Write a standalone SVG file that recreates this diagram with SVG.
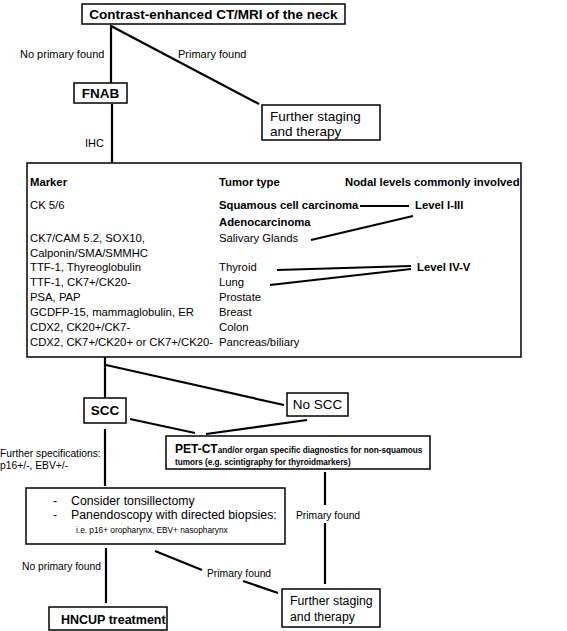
<svg xmlns="http://www.w3.org/2000/svg" width="567" height="631" viewBox="0 0 567 631">
<style>
text{font-family:"Liberation Sans",Arial,sans-serif;fill:#000}
.box{fill:#fff;stroke:#000;stroke-width:1.5}
.b{font-weight:bold}
.t{font-size:11.3px}
.m{font-size:13.5px}
.s{font-size:11px}
.xs{font-size:10.3px}
.conn line{stroke:#000;stroke-width:2.2}
.thin line{stroke:#000;stroke-width:2}
</style>
<rect width="567" height="631" fill="#fff"/>
<g id="connectors" class="conn">
<line x1="111" y1="25" x2="111" y2="83"/>
<line x1="111" y1="26" x2="259" y2="104"/>
<line x1="112" y1="104" x2="112" y2="163"/>
<line x1="105" y1="357" x2="105" y2="398"/>
<line x1="106" y1="365" x2="284" y2="405"/>
<line x1="130" y1="419" x2="195" y2="433"/>
<line x1="307" y1="420" x2="206" y2="434"/>
<line x1="105" y1="429" x2="105" y2="486"/>
<line x1="325" y1="472" x2="325" y2="505"/>
<line x1="325" y1="523" x2="325" y2="584"/>
<line x1="106" y1="548" x2="106" y2="603"/>
<line x1="155" y1="551" x2="202" y2="570"/>
<line x1="243" y1="581" x2="278" y2="593"/>
</g>
<g id="top">
<rect class="box" x="82" y="4" width="263" height="20"/>
<text class="b m" x="213.5" y="19" text-anchor="middle">Contrast-enhanced CT/MRI of the neck</text>
</g>
<text class="s" x="20" y="58">No primary found</text>
<text class="s" x="178" y="58">Primary found</text>
<g id="fnab">
<rect class="box" x="74" y="83" width="53" height="20"/>
<text class="b m" x="100.5" y="98" text-anchor="middle">FNAB</text>
</g>
<g id="staging1">
<rect class="box" x="262" y="105" width="118" height="35"/>
<text class="m" x="270" y="121">Further staging</text>
<text class="m" x="270" y="136">and therapy</text>
</g>
<text class="s" x="85" y="147">IHC</text>
<g id="table">
<rect class="box" x="27" y="163" width="494" height="194"/>
<g class="t">
<text class="b" x="30" y="186">Marker</text>
<text class="b" x="219" y="186">Tumor type</text>
<text class="b" x="345" y="186">Nodal levels commonly involved</text>
<text x="30" y="209">CK 5/6</text>
<text class="b" x="219" y="209">Squamous cell carcinoma</text>
<text class="b" x="415" y="209">Level I-III</text>
<text class="b" x="219" y="226">Adenocarcinoma</text>
<text x="30" y="242">CK7/CAM 5.2, SOX10,</text>
<text x="219" y="242">Salivary Glands</text>
<text x="30" y="257">Calponin/SMA/SMMHC</text>
<text x="30" y="271">TTF-1, Thyreoglobulin</text>
<text x="219" y="271">Thyroid</text>
<text class="b" x="417" y="271">Level IV-V</text>
<text x="30" y="286">TTF-1, CK7+/CK20-</text>
<text x="219" y="286">Lung</text>
<text x="30" y="301">PSA, PAP</text>
<text x="219" y="301">Prostate</text>
<text x="30" y="316">GCDFP-15, mammaglobulin, ER</text>
<text x="219" y="316">Breast</text>
<text x="30" y="331">CDX2, CK20+/CK7-</text>
<text x="219" y="331">Colon</text>
<text x="30" y="346">CDX2, CK7+/CK20+ or CK7+/CK20-</text>
<text x="219" y="346">Pancreas/biliary</text>
</g>
<g class="thin">
<line x1="360" y1="206" x2="409" y2="206"/>
<line x1="311" y1="240" x2="413" y2="216"/>
<line x1="277" y1="270" x2="411" y2="266"/>
<line x1="270" y1="285" x2="411" y2="269"/>
</g>
</g>
<g id="scc">
<rect class="box" x="84" y="398" width="42" height="25"/>
<text class="b m" x="105" y="415" text-anchor="middle">SCC</text>
</g>
<g id="noscc">
<rect class="box" x="287" y="393" width="61" height="23"/>
<text class="m" x="317.5" y="409" text-anchor="middle">No SCC</text>
</g>
<g id="petct">
<rect class="box" x="166" y="436" width="264" height="33"/>
<text class="b" x="175" y="453"><tspan font-size="12px">PET-CT</tspan><tspan font-size="8.2px">and/or organ specific diagnostics for non-squamous</tspan></text>
<text class="b" x="175" y="465" font-size="8.2px">tumors (e.g. scintigraphy for thyroidmarkers)</text>
</g>
<text class="xs" x="0" y="457">Further specifications:</text>
<text class="xs" x="0" y="469">p16+/-, EBV+/-</text>
<g id="tonsil">
<rect class="box" x="26" y="488" width="259" height="56"/>
<text x="53" y="505" font-size="12.3px">-</text>
<text x="71" y="505" font-size="12.3px">Consider tonsillectomy</text>
<text x="53" y="519" font-size="12.3px">-</text>
<text x="71" y="519" font-size="12.3px">Panendoscopy with directed biopsies:</text>
<text x="76" y="533" font-size="8.3px">i.e. p16+ oropharynx, EBV+ nasopharynx</text>
</g>
<text class="xs" x="296" y="519">Primary found</text>
<text class="xs" x="22" y="570">No primary found</text>
<text class="xs" x="207" y="577">Primary found</text>
<g id="hncup">
<rect class="box" x="49" y="607" width="118" height="23"/>
<text class="b" x="61" y="624" font-size="12.5px">HNCUP treatment</text>
</g>
<g id="staging2">
<rect class="box" x="282" y="589" width="98" height="38"/>
<text x="290" y="605" font-size="12.3px">Further staging</text>
<text x="290" y="621" font-size="12.3px">and therapy</text>
</g>
</svg>
